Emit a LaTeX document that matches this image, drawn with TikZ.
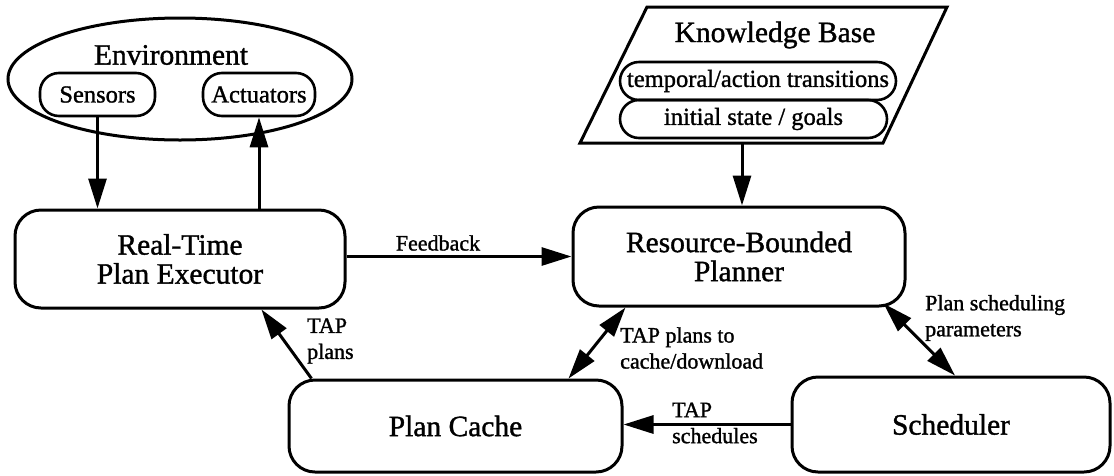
\documentclass[tikz,border=0pt]{standalone}
\usepackage{fontspec}
\setmainfont[FakeBold=1.2]{Liberation Serif}
\usetikzlibrary{arrows.meta,shapes.geometric,calc}
\begin{document}
\begin{tikzpicture}[x=1pt,y=-1pt,
  box/.style={draw, line width=3pt, rounded corners=26pt, align=center, inner sep=0pt, font=\fontsize{29.5}{29}\selectfont},
  pill/.style={draw, line width=2.6pt, rounded corners=19pt, inner sep=0pt, minimum height=43pt, font=\fontsize{24.5}{26}\selectfont},
  big/.style={inner sep=0pt, font=\fontsize{29.5}{29}\selectfont},
  lbl/.style={inner sep=0pt, align=left, font=\fontsize{22}{26}\selectfont},
  arr/.style={line width=3pt, -{Triangle[length=30pt,width=18pt]}},
  darr/.style={line width=3pt, {Triangle[length=30pt,width=18pt]}-{Triangle[length=30pt,width=18pt]}},
]
\useasboundingbox (0,0) rectangle (1114,475);

% Environment
\node[draw, ellipse, line width=3pt, minimum width=344pt, minimum height=122pt, inner sep=0pt] (env) at (180,79) {};
\node[big] (envl) at (171,55) {Environment};
\node[pill, minimum width=115pt] (sens) at (97.5,94.5) {Sensors};
\node[pill, minimum width=112pt] (act) at (259,94.5) {Actuators};

% Knowledge base
\draw[line width=3pt, line join=miter] (647,7) -- (947,7) -- (883,143) -- (580,143) -- cycle;
\node[big] (kbl) at (775,35) {Knowledge Base};
\node[pill, minimum width=276pt, minimum height=38pt] (temp) at (758,81) {temporal/action transitions};
\node[pill, minimum width=267pt, minimum height=38pt] (init) at (753.5,119) {initial state / goals};
\coordinate (kbbot) at (742,143);

% Main boxes
\node[box, minimum width=330pt, minimum height=98pt] (rt) at (180,259) {Real-Time\\Plan Executor};
\node[box, minimum width=332pt, minimum height=99pt] (rb) at (739,256.5) {Resource-Bounded\\Planner};
\node[box, minimum width=333pt, minimum height=92pt] (pc) at (455.5,426) {Plan Cache};
\node[box, minimum width=318pt, minimum height=95pt] (sch) at (951,424.5) {Scheduler};

% Connectors
\draw[arr] (sens.south) -- (sens.south |- rt.north);
\draw[arr] (act.south |- rt.north) -- (act.south);
\draw[arr] (kbbot) -- (kbbot |- rb.north);
\draw[arr] (rt.east |- rb.west) -- (rb.west);
\draw[arr] ([xshift=24pt]pc.north west) -- ([xshift=248pt]rt.south west);
\draw[darr] ([xshift=-55pt]pc.north east) -- ([xshift=54pt]rb.south west);
\draw[darr] ([xshift=-23pt,yshift=4pt]rb.south east) -- ([xshift=4pt]sch.north);
\draw[arr] (sch.west) -- (sch.west -| pc.east);

% Labels
\node[lbl] (fbl) at (438,243) {Feedback};
\node[lbl, anchor=west] (tapl) at (307,341) {TAP\\plans};
\node[lbl, anchor=west] (tapc) at (620,348) {TAP plans to\\cache/download};
\node[lbl, anchor=west] (psp) at (925,318) {Plan scheduling\\parameters};
\node[lbl, anchor=west] (taps) at (672,423) {TAP\\schedules};
\end{tikzpicture}
\end{document}
